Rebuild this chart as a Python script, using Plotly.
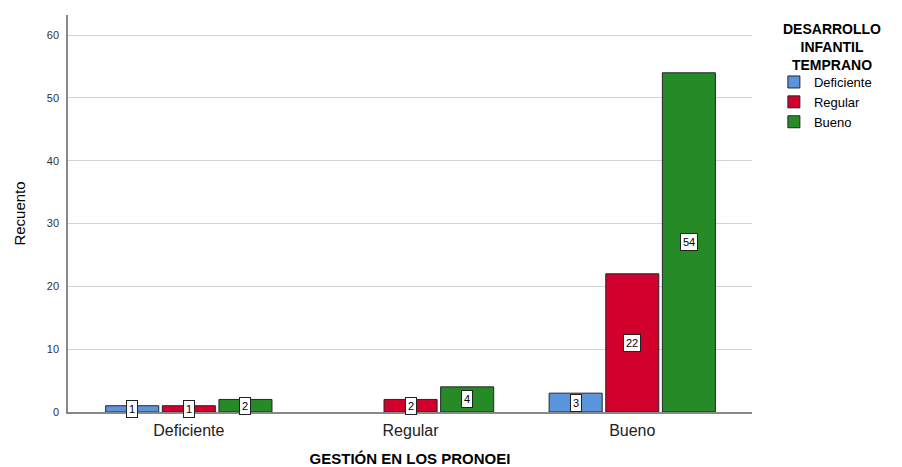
import plotly.graph_objects as go

categories = ["Deficiente", "Regular", "Bueno"]
series_names = ["Deficiente", "Regular", "Bueno"]
deficiente = [1, 0, 3]
regular = [1, 2, 22]
bueno = [2, 4, 54]
series_values = [deficiente, regular, bueno]
colors = ["#5a95dc", "#d2002d", "#268a26"]
y_ticks = [0, 10, 20, 30, 40, 50, 60]

BARGAP = 0.234
FONT = "Liberation Sans, Arial, sans-serif"

fig = go.Figure()
for name, vals, col in zip(series_names, series_values, colors):
    fig.add_trace(go.Bar(
        name=name, x=categories, y=[v if v else None for v in vals],
        marker=dict(color=col, line=dict(color="#262626", width=1)),
    ))

n = len(series_values)
slot = (1 - BARGAP) / n
annotations = []
for j, vals in enumerate(series_values):
    for i, v in enumerate(vals):
        if not v:
            continue
        annotations.append(dict(
            x=i + (j - (n - 1) / 2) * slot, y=v / 2, xref="x", yref="y",
            text=str(v), showarrow=False,
            font=dict(family=FONT, size=11, color="#000"),
            bgcolor="white", bordercolor="#222", borderwidth=1, borderpad=2,
        ))

annotations.append(dict(
    text="<b>DESARROLLO<br>INFANTIL<br>TEMPRANO</b>",
    xref="paper", yref="paper", x=1.117, y=0.99, xanchor="center", yanchor="top",
    showarrow=False, align="center",
    font=dict(family=FONT, size=14, color="#000"),
))

fig.update_layout(
    width=894, height=459,
    margin=dict(l=60, r=150, t=7, b=55),
    paper_bgcolor="white", plot_bgcolor="white",
    barmode="group", bargap=BARGAP, bargroupgap=0.063,
    font=dict(family=FONT, color="#222"),
    annotations=annotations,
    legend=dict(
        x=1.032, y=0.869, xanchor="left", yanchor="top",
        font=dict(family=FONT, size=13, color="#000"),
        itemwidth=30, tracegroupgap=0, traceorder="normal",
    ),
    xaxis=dict(
        type="category", range=[-0.545, 2.54], automargin=False,
        showline=True, linecolor="#888", linewidth=1.5,
        showgrid=False, ticks="", ticklabelstandoff=3,
        tickfont=dict(family=FONT, size=16, color="#222"),
        title=dict(text="<b>GESTIÓN EN LOS PRONOEI</b>",
                   font=dict(family=FONT, size=15, color="#000"), standoff=21),
    ),
    yaxis=dict(
        range=[0, 63.2], tickvals=y_ticks, automargin=False,
        showline=True, linecolor="#888", linewidth=1.5,
        showgrid=True, gridcolor="#d4d4d4", gridwidth=1,
        zeroline=False, ticks="", ticklabelstandoff=5,
        tickfont=dict(family=FONT, size=11, color="#333"),
        title=dict(text="Recuento",
                   font=dict(family=FONT, size=15, color="#000"), standoff=18),
    ),
)

fig.write_html("out.html")
